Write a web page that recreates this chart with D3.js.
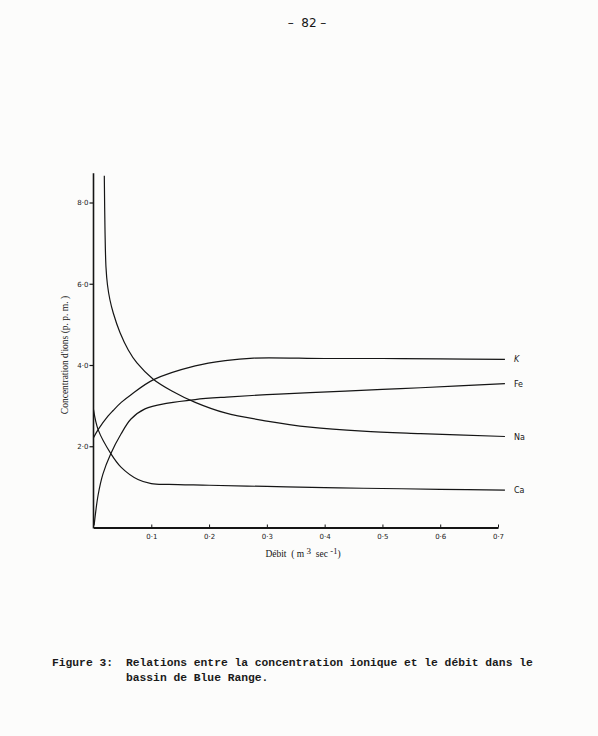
<!DOCTYPE html>
<html>
<head>
<meta charset="utf-8">
<script src="https://cdn.jsdelivr.net/npm/d3@7"></script>
<style>
  html, body { margin: 0; padding: 0; background: #fcfcfb; }
  svg { display: block; }
  .tick text { font-family: "DejaVu Sans", sans-serif; font-size: 7px; fill: #222; }
</style>
</head>
<body>
<svg id="chart" width="598" height="736"></svg>
<script>
// discharge (m3/s) vs ion concentration (ppm)
const ca = [[0, 2.90], [0.008, 2.41], [0.030, 1.82], [0.048, 1.48], [0.077, 1.18], [0.100, 1.08],
  [0.13, 1.06], [0.2, 1.04], [0.3, 1.01], [0.4, 0.98], [0.5, 0.96], [0.6, 0.94], [0.712, 0.92]];
const k = [[0, 2.21], [0.008, 2.41], [0.025, 2.74], [0.034, 2.88], [0.048, 3.08], [0.065, 3.27], [0.104, 3.64],
  [0.176, 3.98], [0.228, 4.11], [0.277, 4.17], [0.4, 4.16], [0.5, 4.16], [0.6, 4.15], [0.712, 4.14]];
const fe = [[0.001, 0.05], [0.008, 0.80], [0.0164, 1.32], [0.0297, 1.81], [0.0476, 2.30], [0.0649, 2.67],
  [0.0891, 2.92], [0.1289, 3.06], [0.176, 3.15], [0.23, 3.21], [0.3, 3.27], [0.375, 3.32], [0.5, 3.40],
  [0.566, 3.44], [0.712, 3.54]];
const na = [[0.0187, 8.66], [0.0199, 7.32], [0.0216, 6.41], [0.0242, 5.97], [0.0285, 5.60], [0.0342, 5.28],
  [0.0458, 4.80], [0.0602, 4.37], [0.0752, 4.05], [0.1034, 3.65], [0.1356, 3.36], [0.176, 3.08], [0.228, 2.82],
  [0.3, 2.62], [0.375, 2.47], [0.466, 2.37], [0.566, 2.31], [0.712, 2.24]];

const series = [
  { name: "K", values: k },
  { name: "Fe", values: fe },
  { name: "Na", values: na },
  { name: "Ca", values: ca }
];

const xTicks = [0.1, 0.2, 0.3, 0.4, 0.5, 0.6, 0.7];
const yTicks = [2, 4, 6, 8];

const svg = d3.select("#chart");
const ink = "#151515";

const x = d3.scaleLinear().domain([0, 0.7]).range([93.5, 498]);
const y = d3.scaleLinear().domain([0, 8]).range([527.5, 202.5]);
const fmt = d => d3.format(".1f")(d).replace(".", "\u00b7");

// page number
svg.append("text")
  .attr("x", 307).attr("y", 27)
  .attr("text-anchor", "middle")
  .style("font-family", "\"DejaVu Sans\", sans-serif")
  .style("font-size", "12px")
  .style("white-space", "pre")
  .attr("fill", ink)
  .text("\u2013  82 \u2013");

// axes
const yAxis = svg.append("g")
  .attr("transform", "translate(" + x(0) + ",0)")
  .call(d3.axisLeft(y).tickValues(yTicks).tickFormat(fmt).tickSize(4).tickPadding(1));
yAxis.select(".domain").remove();
yAxis.selectAll(".tick line").attr("stroke", ink).attr("stroke-width", 1.2);

svg.append("line")
  .attr("x1", x(0)).attr("x2", x(0))
  .attr("y1", y(0) + 1).attr("y2", y(8.72))
  .attr("stroke", ink).attr("stroke-width", 1.6);

const xAxis = svg.append("g")
  .attr("transform", "translate(0," + y(0) + ")")
  .call(d3.axisBottom(x).tickValues(xTicks).tickFormat(fmt).tickSizeInner(-3).tickSizeOuter(0).tickPadding(7));
xAxis.select(".domain").attr("stroke", ink).attr("stroke-width", 2);
xAxis.selectAll(".tick line").attr("stroke", ink).attr("stroke-width", 1);

// axis titles
const xTitle = svg.append("text")
  .attr("x", 303).attr("y", 557)
  .attr("text-anchor", "middle")
  .style("font-family", "\"Liberation Serif\", serif")
  .style("font-size", "9.5px")
  .style("white-space", "pre")
  .attr("fill", ink);
xTitle.append("tspan").text("D\u00e9bit  ( m ");
xTitle.append("tspan").attr("dy", -3).style("font-size", "9px").text("3");
xTitle.append("tspan").attr("dy", 3).text("  sec ");
xTitle.append("tspan").attr("dy", -3).style("font-size", "8.5px").text("-1");
xTitle.append("tspan").attr("dy", 3).text(")");

svg.append("text")
  .attr("transform", "translate(68,355) rotate(-90)")
  .attr("text-anchor", "middle")
  .style("font-family", "\"Liberation Serif\", serif")
  .style("font-size", "9.5px")
  .attr("fill", ink)
  .text("Concentration d'ions (p. p. m. )");

// curves
const line = d3.line()
  .x(d => x(d[0]))
  .y(d => y(d[1]))
  .curve(d3.curveCatmullRom.alpha(0.5));

svg.append("g")
  .selectAll("path")
  .data(series)
  .join("path")
  .attr("d", d => line(d.values))
  .attr("fill", "none")
  .attr("stroke", ink)
  .attr("stroke-width", 1.2);

svg.append("g")
  .selectAll("text")
  .data(series)
  .join("text")
  .attr("x", d => x(d.values[d.values.length - 1][0]) + 9)
  .attr("y", d => y(d.values[d.values.length - 1][1]) + 3)
  .style("font-family", "\"DejaVu Sans\", sans-serif")
  .style("font-size", "8px")
  .style("font-style", d => d.name === "K" ? "italic" : "normal")
  .attr("fill", ink)
  .text(d => d.name);

// caption
const cap = svg.append("g")
  .style("font-family", "\"Liberation Mono\", monospace")
  .style("font-size", "11.3px")
  .style("font-weight", "bold")
  .attr("fill", "#1a1a1a");
cap.append("text").attr("x", 52).attr("y", 666).text("Figure 3:");
cap.append("text").attr("x", 126).attr("y", 666)
  .text("Relations entre la concentration ionique et le d\u00e9bit dans le");
cap.append("text").attr("x", 126).attr("y", 681).text("bassin de Blue Range.");
</script>
</body>
</html>
